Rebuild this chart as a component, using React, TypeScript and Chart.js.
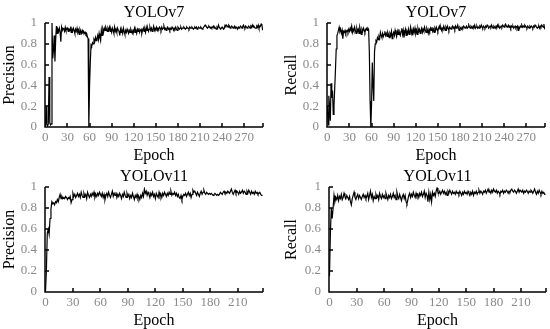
import React, { useEffect, useRef } from 'react';
import { Chart, registerables } from 'chart.js';
Chart.register(...registerables);

const FONT = '"Liberation Serif", "Times New Roman", Times, serif';

const v7TickLabels = [0, 30, 60, 90, 120, 150, 180, 210, 240, 270];
const v11TickLabels = [0, 30, 60, 90, 120, 150, 180, 210];

const v7Precision = [
  0.00, 0.20, 0.02, 0.01, 0.03, 0.48, 0.04, 0.02, 0.03, 1.00,
  0.66, 0.74, 0.88, 0.63, 0.84, 0.97, 0.90, 0.94, 0.92, 0.95,
  0.91, 0.82, 0.96, 0.93, 0.95, 0.94, 0.92, 0.96, 0.93, 0.94,
  0.95, 0.92, 0.94, 0.93, 0.95, 0.91, 0.94, 0.92, 0.95, 0.93,
  0.90, 0.94, 0.92, 0.95, 0.91, 0.93, 0.89, 0.94, 0.92, 0.90,
  0.93, 0.91, 0.92, 0.90, 0.91, 0.89, 0.90, 0.87, 0.85, 0.00,
  0.40, 0.62, 0.79, 0.78, 0.81, 0.80, 0.84, 0.82, 0.86, 0.83,
  0.85, 0.88, 0.84, 0.90, 0.86, 0.83, 0.93, 0.88, 0.94, 0.91,
  0.95, 0.93, 0.96, 0.94, 0.92, 0.95, 0.93, 0.96, 0.92, 0.94,
  0.91, 0.95, 0.93, 0.90, 0.96, 0.92, 0.94, 0.91, 0.95, 0.93,
  0.92, 0.88, 0.94, 0.91, 0.93, 0.90, 0.95, 0.92, 0.89, 0.93,
  0.91, 0.94, 0.92, 0.90, 0.93, 0.91, 0.94, 0.92, 0.90, 0.93,
  0.92, 0.95, 0.91, 0.93, 0.90, 0.94, 0.92, 0.95, 0.91, 0.93,
  0.94, 0.90, 0.93, 0.95, 0.92, 0.94, 0.91, 0.96, 0.93, 0.95,
  0.92, 0.94, 0.96, 0.93, 0.95, 0.92, 0.94, 0.97, 0.93, 0.95,
  0.94, 0.96, 0.93, 0.95, 0.94, 0.96, 0.95, 0.93, 0.96, 0.94,
  0.95, 0.97, 0.94, 0.95, 0.93, 0.95, 0.96, 0.94, 0.95, 0.93,
  0.95, 0.94, 0.96, 0.95, 0.93, 0.95, 0.94, 0.96, 0.94, 0.93,
  0.96, 0.95, 0.94, 0.95, 0.96, 0.94, 0.95, 0.95,
  0.96, 0.95, 0.94, 0.95, 0.96, 0.95, 0.95, 0.94, 0.96, 0.95,
  0.95, 0.96, 0.95, 0.94, 0.95, 0.96, 0.95, 0.96,
  0.94, 0.95, 0.96, 0.95, 0.95, 0.96, 0.95, 0.94, 0.95, 0.96,
  0.97, 0.98, 0.97, 0.96, 0.95, 0.96, 0.97, 0.96, 0.95, 0.96,
  0.95, 0.96, 0.97, 0.95, 0.96, 0.95, 0.94, 0.96, 0.95, 0.98,
  0.96, 0.95, 0.94, 0.95, 0.96, 0.95, 0.94, 0.95, 0.98, 0.97,
  0.98, 0.97, 0.96, 0.98, 0.97, 0.95, 0.96, 0.97, 0.96, 0.95,
  0.96, 0.97, 0.95, 0.96, 0.95, 0.94, 0.96, 0.95, 0.96, 0.97,
  0.96, 0.95, 0.97, 0.98, 0.96, 0.95, 0.97, 0.96, 0.95, 0.96,
  0.97, 0.96, 0.95, 0.97, 0.96, 0.98, 0.96, 0.97, 0.96, 0.95,
  0.95, 0.97, 0.96, 0.98, 0.95, 0.96, 0.97, 0.99, 0.98, 0.93,
];

const v7Recall = [
  0.20, 0.02, 0.30, 0.20, 0.06, 0.42, 0.28, 0.35, 0.12, 0.20,
  0.38, 0.55, 0.75, 0.88, 0.90, 0.93, 0.96, 0.92, 0.94, 0.90,
  0.93, 0.85, 0.92, 0.91, 0.93, 0.90, 0.92, 0.93, 0.91, 0.94,
  0.92, 0.95, 0.93, 0.97, 0.91, 0.94, 0.92, 0.96, 0.93, 0.90,
  0.95, 0.92, 0.94, 0.90, 0.96, 0.93, 0.89, 0.94, 0.92, 0.95,
  0.93, 0.91, 0.94, 0.95, 0.93, 0.95, 0.94, 0.72, 0.25, 0.00,
  0.22, 0.62, 0.40, 0.25, 0.72, 0.80, 0.83, 0.82, 0.86, 0.84,
  0.87, 0.85, 0.91, 0.88, 0.86, 0.90, 0.87, 0.89, 0.92, 0.88,
  0.90, 0.87, 0.91, 0.89, 0.86, 0.90, 0.88, 0.92, 0.85, 0.89,
  0.91, 0.88, 0.93, 0.90, 0.87, 0.92, 0.89, 0.94, 0.90, 0.88,
  0.92, 0.95, 0.89, 0.93, 0.86, 0.91, 0.94, 0.88, 0.92, 0.90,
  0.94, 0.89, 0.92, 0.96, 0.90, 0.93, 0.88, 0.94, 0.91, 0.95,
  0.90, 0.93, 0.89, 0.95, 0.92, 0.94, 0.90, 0.93, 0.95, 0.91,
  0.94, 0.92, 0.96, 0.93, 0.91, 0.95, 0.93, 0.90, 0.94, 0.92,
  0.95, 0.93, 0.96, 0.92, 0.94, 0.91, 0.95, 0.93, 0.96, 0.94,
  0.92, 0.95, 0.97, 0.94, 0.96, 0.93, 0.95, 0.94, 0.97, 0.95,
  0.93, 0.96, 0.94, 0.97, 0.95, 0.93, 0.96, 0.95, 0.94, 0.96,
  0.97, 0.95, 0.96, 0.94, 0.97, 0.95, 0.96, 0.98, 0.95, 0.93,
  0.96, 0.95, 0.94, 0.96, 0.95, 0.97, 0.96, 0.95,
  0.96, 0.97, 0.95, 0.96, 0.98, 0.96, 0.95, 0.97, 0.96, 0.95,
  0.97, 0.96, 0.98, 0.95, 0.96, 0.97, 0.95, 0.96,
  0.95, 0.97, 0.96, 0.98, 0.96, 0.95, 0.97, 0.96, 0.95, 0.97,
  0.96, 0.98, 0.97, 0.95, 0.96, 0.97, 0.96, 0.98, 0.96, 0.95,
  0.97, 0.96, 0.95, 0.97, 0.96, 0.98, 0.96, 0.97, 0.95, 0.96,
  0.97, 0.96, 0.98, 0.97, 0.96, 0.98, 0.99, 0.97, 0.96, 0.97,
  0.98, 0.96, 0.97, 0.95, 0.97, 0.96, 0.97, 0.95, 0.96, 0.97,
  0.95, 0.96, 0.97, 0.93, 0.96, 0.95, 0.97, 0.96, 0.98, 0.96,
  0.97, 0.96, 0.98, 0.97, 0.96, 0.95, 0.97, 0.96, 0.95, 0.97,
  0.96, 0.97, 0.96, 0.95, 0.97, 0.96, 0.98, 0.97, 0.96, 0.95,
  0.96, 0.97, 0.95, 0.97, 0.96, 0.98, 0.97, 0.96, 0.99, 0.94,
];

const v11Precision = [
  0.00, 0.20, 0.56, 0.60, 0.55, 0.70, 0.79, 0.86, 0.84, 0.85,
  0.83, 0.86, 0.85, 0.88, 0.86, 0.90, 0.93, 0.89, 0.91, 0.89,
  0.90, 0.89, 0.91, 0.90, 0.88, 0.90, 0.89, 0.91, 0.85, 0.88,
  0.94, 0.91, 0.93, 0.90, 0.92, 0.94, 0.91, 0.93, 0.90, 0.95,
  0.92, 0.90, 0.94, 0.91, 0.93, 0.89, 0.95, 0.92, 0.90, 0.93,
  0.91, 0.94, 0.92, 0.95, 0.90, 0.93, 0.91, 0.94, 0.92, 0.95,
  0.93, 0.91, 0.94, 0.90, 0.93, 0.88, 0.92, 0.94, 0.91, 0.95,
  0.92, 0.90, 0.93, 0.96, 0.91, 0.94, 0.92, 0.95, 0.90, 0.93,
  0.91, 0.94, 0.92, 0.89, 0.93, 0.91, 0.95, 0.92, 0.90, 0.94,
  0.91, 0.93, 0.89, 0.92, 0.90, 0.94, 0.91, 0.88, 0.92, 0.90,
  0.93, 0.89, 0.91, 0.88, 0.92, 0.90, 0.94, 0.91, 0.98, 0.94,
  0.96, 0.92, 0.95, 0.93, 0.90, 0.94, 0.92, 0.95, 0.91, 0.93,
  0.89, 0.94, 0.92, 0.90, 0.95, 0.91, 0.93, 0.90, 0.94, 0.92,
  0.95, 0.93, 0.91, 0.94, 0.92, 0.95, 0.93, 0.96, 0.92, 0.94,
  0.93, 0.95, 0.92, 0.94, 0.91, 0.93, 0.90, 0.89, 0.92, 0.88,
  0.91, 0.93, 0.92, 0.94, 0.91, 0.93, 0.95, 0.92, 0.94, 0.90,
  0.93, 0.97, 0.95, 0.96, 0.94, 0.92, 0.95, 0.93, 0.91, 0.94,
  0.96, 0.93, 0.95, 0.97, 0.94, 0.93, 0.95, 0.94, 0.93, 0.94,
  0.93, 0.94, 0.93, 0.92, 0.93, 0.94, 0.93, 0.92, 0.93, 0.92,
  0.93, 0.95, 0.94, 0.93, 0.95, 0.96, 0.94, 0.95, 0.94, 0.96,
  0.95, 0.94, 0.96, 0.98, 0.95, 0.93, 0.95, 0.97, 0.94, 0.96,
  0.95, 0.93, 0.96, 0.94, 0.95, 0.97, 0.94, 0.96, 0.95, 0.93,
  0.96, 0.94, 0.97, 0.95, 0.93, 0.96, 0.94, 0.95, 0.93, 0.96,
  0.94, 0.95, 0.93, 0.94, 0.95, 0.93, 0.92, 0.92,
];

const v11Recall = [
  0.15, 0.55, 0.80, 0.70, 0.80, 0.92, 0.86, 0.90, 0.88, 0.92,
  0.87, 0.91, 0.89, 0.93, 0.88, 0.90, 0.94, 0.91, 0.89, 0.92,
  0.90, 0.88, 0.91, 0.86, 0.83, 0.89, 0.92, 0.95, 0.90, 0.88,
  0.91, 0.93, 0.89, 0.92, 0.90, 0.88, 0.91, 0.93, 0.90, 0.92,
  0.89, 0.91, 0.94, 0.88, 0.92, 0.96, 0.90, 0.93, 0.87, 0.91,
  0.89, 0.93, 0.90, 0.92, 0.88, 0.94, 0.91, 0.89, 0.93, 0.90,
  0.92, 0.89, 0.94, 0.91, 0.88, 0.92, 0.90, 0.93, 0.89, 0.91,
  0.94, 0.90, 0.92, 0.88, 0.95, 0.91, 0.89, 0.93, 0.90, 0.87,
  0.91, 0.93, 0.89, 0.92, 0.86, 0.84, 0.88, 0.92, 0.94, 0.90,
  0.93, 0.91, 0.95, 0.92, 0.90, 0.94, 0.91, 0.93, 0.90, 0.94,
  0.92, 0.95, 0.91, 0.93, 0.96, 0.90, 0.94, 0.92, 0.86, 0.95,
  0.88, 0.93, 0.86, 0.95, 0.92, 0.94, 0.91, 0.96, 0.99, 0.95,
  0.94, 0.96, 0.93, 0.95, 0.97, 0.94, 0.96, 0.93, 0.95, 0.92,
  0.96, 0.94, 0.97, 0.95, 0.93, 0.96, 0.94, 0.95, 0.93, 0.96,
  0.94, 0.95, 0.93, 0.96, 0.94, 0.92, 0.95, 0.93, 0.96, 0.94,
  0.95, 0.93, 0.96, 0.94, 0.92, 0.95, 0.93, 0.96, 0.92, 0.95,
  0.94, 0.96, 0.93, 0.95, 0.97, 0.94, 0.96, 0.95, 0.93, 0.96,
  0.95, 0.97, 0.94, 0.96, 0.98, 0.95, 0.96, 0.94, 0.97, 0.95,
  0.98, 0.96, 0.95, 0.97, 0.94, 0.96, 0.95, 0.93, 0.96, 0.95,
  0.97, 0.94, 0.96, 0.95, 0.97, 0.96, 0.94, 0.96, 0.95, 0.97,
  0.98, 0.96, 0.95, 0.97, 0.96, 0.94, 0.96, 0.98, 0.95, 0.97,
  0.96, 0.95, 0.97, 0.94, 0.96, 0.95, 0.97, 0.96, 0.94, 0.96,
  0.95, 0.97, 0.96, 0.94, 0.96, 0.98, 0.95, 0.93, 0.96, 0.94,
  0.97, 0.95, 0.93, 0.96, 0.94, 0.95, 0.93, 0.93,
];

const framePlugin = {
  id: 'frame',
  afterDatasetsDraw(chart: any, _args: any, opts: any) {
    const { ctx, chartArea: a, scales } = chart;
    ctx.save();
    ctx.strokeStyle = '#000';
    ctx.lineWidth = 1.5;
    ctx.beginPath();
    ctx.moveTo(a.left, a.top);
    ctx.lineTo(a.left, a.bottom);
    ctx.lineTo(a.right, a.bottom);
    for (const t of scales.y.ticks) {
      const y = Math.round(scales.y.getPixelForValue(t.value));
      ctx.moveTo(a.left, y);
      ctx.lineTo(a.left + 4, y);
    }
    for (const t of scales.x.ticks) {
      const x = Math.round(scales.x.getPixelForValue(t.value));
      ctx.moveTo(x, a.bottom);
      ctx.lineTo(x, a.bottom - 4);
    }
    ctx.moveTo(a.right, a.bottom);
    ctx.lineTo(a.right, a.bottom - 4);
    ctx.stroke();
    ctx.fillStyle = '#000';
    ctx.font = `16px ${FONT}`;
    ctx.textAlign = 'center';
    ctx.textBaseline = 'middle';
    ctx.fillText(opts.text, (a.left + a.right) / 2, opts.y);
    ctx.restore();
  },
};

type PanelProps = {
  title: string;
  yLabel: string;
  values: number[];
  tickLabels: number[];
  x: number;
  y: number;
  w: number;
  h: number;
  yWidth: number;
  padRight: number;
  yTitlePad: number;
};

function Panel(p: PanelProps) {
  const ref = useRef<HTMLCanvasElement>(null);
  useEffect(() => {
    if (!ref.current) return;
    const n = p.values.length;
    const chart = new Chart(ref.current, {
      type: 'line',
      data: {
        datasets: [
          {
            data: p.values.map((v, i) => ({ x: i, y: v })),
            borderColor: '#000',
            borderWidth: 1.2,
            pointRadius: 0,
            tension: 0,
            fill: false,
          },
        ],
      },
      plugins: [framePlugin],
      options: {
        responsive: false,
        animation: false,
        layout: { padding: { left: 0, right: p.padRight, top: 23, bottom: 0 } },
        plugins: {
          legend: { display: false },
          tooltip: { enabled: false },
          // @ts-ignore
          frame: { text: p.title, y: 13 },
        },
        scales: {
          x: {
            type: 'linear',
            min: -0.5,
            max: n - 0.5,
            afterBuildTicks: (s: any) => {
              s.ticks = p.tickLabels.map((v) => ({ value: v }));
            },
            afterFit: (s: any) => {
              s.height = 37;
            },
            grid: { display: false, drawTicks: false },
            border: { display: false },
            ticks: {
              color: '#8a8a8a',
              font: { family: FONT, size: 13 },
              padding: 3,
              maxRotation: 0,
              autoSkip: false,
              callback: (v: any) => String(v),
            },
            title: {
              display: true,
              text: 'Epoch',
              color: '#000',
              font: { family: FONT, size: 16, lineHeight: 1 },
              padding: { top: 0, bottom: 0 },
            },
          },
          y: {
            min: 0,
            max: 1,
            afterFit: (s: any) => {
              s.width = p.yWidth;
            },
            grid: { display: false, drawTicks: false },
            border: { display: false },
            ticks: {
              stepSize: 0.2,
              color: '#8a8a8a',
              font: { family: FONT, size: 13 },
              padding: 8,
              callback: (v: any) => String(Math.round(Number(v) * 10) / 10),
            },
            title: {
              display: true,
              text: p.yLabel,
              color: '#000',
              font: { family: FONT, size: 16, lineHeight: 1 },
              padding: { top: p.yTitlePad, bottom: 0 },
            },
          },
        },
      } as any,
    });
    return () => chart.destroy();
  }, []);
  return (
    <canvas
      ref={ref}
      width={p.w}
      height={p.h}
      style={{ position: 'absolute', left: p.x, top: p.y, width: p.w, height: p.h }}
    />
  );
}

export default function App() {
  useEffect(() => {
    document.body.style.margin = '0';
    document.body.style.background = '#fff';
  }, []);
  return (
    <div style={{ position: 'relative', width: 550, height: 329, background: '#fff', overflow: 'hidden' }}>
      <Panel title="YOLOv7" yLabel="Precision" values={v7Precision} tickLabels={v7TickLabels}
        x={0} y={0} w={275} h={164} yWidth={45} padRight={12} yTitlePad={2} />
      <Panel title="YOLOv7" yLabel="Recall" values={v7Recall} tickLabels={v7TickLabels}
        x={275} y={0} w={275} h={164} yWidth={52} padRight={5} yTitlePad={9} />
      <Panel title="YOLOv11" yLabel="Precision" values={v11Precision} tickLabels={v11TickLabels}
        x={0} y={164} w={275} h={165} yWidth={45} padRight={12} yTitlePad={2} />
      <Panel title="YOLOv11" yLabel="Recall" values={v11Recall} tickLabels={v11TickLabels}
        x={275} y={164} w={275} h={165} yWidth={54} padRight={4} yTitlePad={9} />
    </div>
  );
}
